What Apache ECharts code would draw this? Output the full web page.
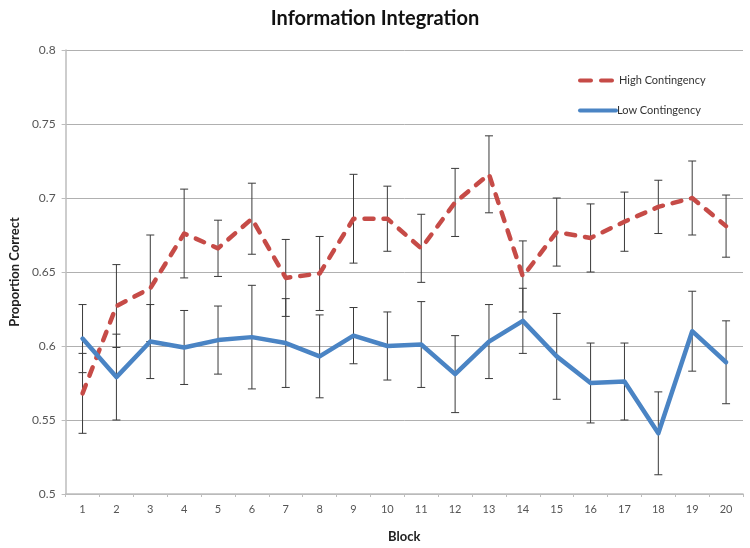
<!DOCTYPE html>
<html>
<head>
<meta charset="utf-8">
<script src="https://cdn.jsdelivr.net/npm/echarts@6/dist/echarts.min.js"></script>
<style>html,body{margin:0;padding:0;background:#fff}#c{width:750px;height:548px}</style>
</head>
<body>
<div id="c"></div>
<script>
var blocks = ['1','2','3','4','5','6','7','8','9','10','11','12','13','14','15','16','17','18','19','20'];
var highValues = [0.568, 0.627, 0.639, 0.676, 0.666, 0.686, 0.646, 0.649, 0.686, 0.686, 0.666, 0.697, 0.716, 0.647, 0.677, 0.673, 0.684, 0.694, 0.700, 0.681];
var highErr = [0.027, 0.028, 0.036, 0.030, 0.019, 0.024, 0.026, 0.025, 0.030, 0.022, 0.023, 0.023, 0.026, 0.024, 0.023, 0.023, 0.020, 0.018, 0.025, 0.021];
var lowValues = [0.605, 0.579, 0.603, 0.599, 0.604, 0.606, 0.602, 0.593, 0.607, 0.600, 0.601, 0.581, 0.603, 0.617, 0.593, 0.575, 0.576, 0.541, 0.610, 0.589];
var lowErr = [0.023, 0.029, 0.025, 0.025, 0.023, 0.035, 0.030, 0.028, 0.019, 0.023, 0.029, 0.026, 0.025, 0.022, 0.029, 0.027, 0.026, 0.028, 0.027, 0.028];

function errData(vals, errs) {
  return vals.map(function (v, i) { return [i, v - errs[i], v + errs[i]]; });
}
function renderErr(params, api) {
  var lo = api.coord([api.value(0), api.value(1)]);
  var hi = api.coord([api.value(0), api.value(2)]);
  var cw = 4;
  var st = { stroke: '#3a3a3a', lineWidth: 1 };
  return {
    type: 'group',
    children: [
      { type: 'line', shape: { x1: lo[0], y1: lo[1], x2: hi[0], y2: hi[1] }, style: st },
      { type: 'line', shape: { x1: lo[0] - cw, y1: lo[1], x2: lo[0] + cw, y2: lo[1] }, style: st },
      { type: 'line', shape: { x1: hi[0] - cw, y1: hi[1], x2: hi[0] + cw, y2: hi[1] }, style: st }
    ]
  };
}

var chart = echarts.init(document.getElementById('c'), null, { renderer: 'canvas' });
var font = 'Lato, "Open Sans", sans-serif';
var dashIcon = 'path://M2,0 L13,0 A2,2 0 0 1 13,4 L2,4 A2,2 0 0 1 2,0 Z M23,0 L34,0 A2,2 0 0 1 34,4 L23,4 A2,2 0 0 1 23,0 Z';
var solidIcon = 'path://M2,0 L38,0 A2,2 0 0 1 38,4 L2,4 A2,2 0 0 1 2,0 Z';
chart.setOption({
  animation: false,
  backgroundColor: '#fff',
  title: {
    text: 'Information Integration',
    left: 'center', top: 4,
    textStyle: { fontFamily: font, fontSize: 20, fontWeight: 'bold', color: '#111' }
  },
  legend: [
    {
      left: 573, top: 70,
      itemWidth: 36, itemHeight: 4.5, itemGap: 5,
      textStyle: { fontFamily: font, fontSize: 11, color: '#333', padding: [0, 0, 0, 0] },
      data: [{ name: 'High Contingency', icon: dashIcon }]
    },
    {
      left: 573, top: 100,
      itemWidth: 40, itemHeight: 4.5, itemGap: 2,
      textStyle: { fontFamily: font, fontSize: 11, color: '#333', padding: [0, 0, 0, -6] },
      data: [{ name: 'Low Contingency', icon: solidIcon }]
    }
  ],
  grid: { left: 63, right: 7, top: 50, bottom: 54, containLabel: false },
  xAxis: {
    type: 'category',
    data: blocks,
    name: 'Block',
    nameLocation: 'middle',
    nameGap: 36,
    nameTextStyle: { fontFamily: font, fontSize: 13, fontWeight: 'bold', color: '#222' },
    axisLine: { lineStyle: { color: '#bdbdbd', width: 1.5 } },
    axisTick: { show: true, length: 3, lineStyle: { color: '#bdbdbd' } },
    axisLabel: { fontFamily: font, fontSize: 11, color: '#555', margin: 10 },
    splitLine: { show: false }
  },
  yAxis: {
    type: 'value',
    min: 0.5, max: 0.8, interval: 0.05,
    name: 'Proportion Correct',
    nameLocation: 'middle',
    nameGap: 42,
    nameTextStyle: { fontFamily: font, fontSize: 13, fontWeight: 'bold', color: '#222' },
    axisLine: { show: true, lineStyle: { color: '#bdbdbd', width: 1.5 } },
    axisTick: { show: true, length: 4, lineStyle: { color: '#bdbdbd' } },
    axisLabel: { fontFamily: font, fontSize: 12, color: '#555', margin: 10 },
    splitLine: { lineStyle: { color: '#b0b0b0', width: 1 } }
  },
  series: [
    {
      name: 'errHigh', type: 'custom', renderItem: renderErr,
      data: errData(highValues, highErr), z: 1, silent: true
    },
    {
      name: 'errLow', type: 'custom', renderItem: renderErr,
      data: errData(lowValues, lowErr), z: 1, silent: true
    },
    {
      name: 'High Contingency', type: 'line', data: highValues,
      symbol: 'none', z: 3,
      color: '#C64B47',
      lineStyle: { color: '#C64B47', width: 4.5, type: [9, 10], cap: 'round', join: 'round' }
    },
    {
      name: 'Low Contingency', type: 'line', data: lowValues,
      symbol: 'none', z: 4,
      color: '#4A84C4',
      lineStyle: { color: '#4A84C4', width: 4.5, cap: 'round', join: 'round' }
    }
  ]
});
</script>
</body>
</html>
